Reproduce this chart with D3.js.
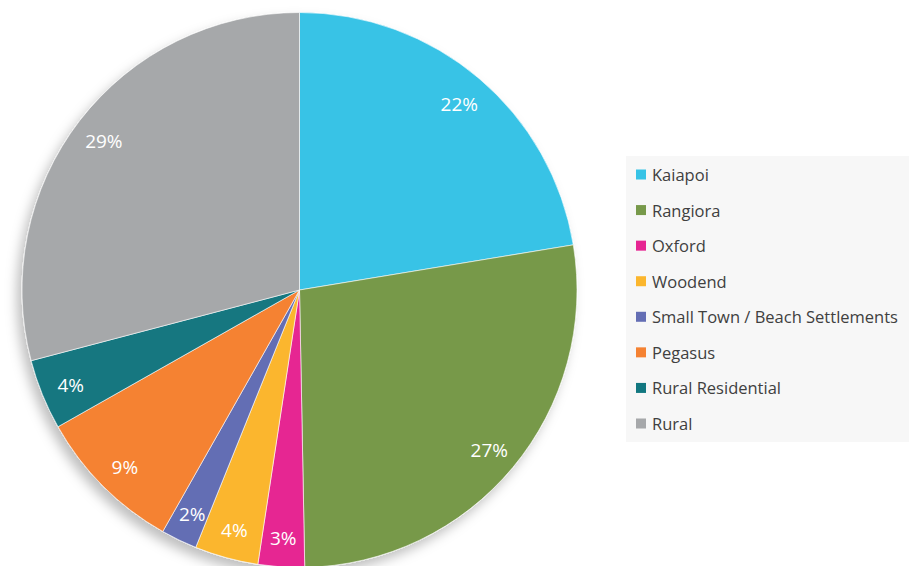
<!DOCTYPE html>
<html>
<head>
<meta charset="utf-8">
<script src="https://cdn.jsdelivr.net/npm/d3@7"></script>
<style>
  body { margin: 0; background: #fff; }
  svg { display: block; }
</style>
</head>
<body>
<script>
// Share by area - pie with legend on the right

const areas   = ["Kaiapoi", "Rangiora", "Oxford", "Woodend", "Small Town / Beach Settlements", "Pegasus", "Rural Residential", "Rural"];
const shares  = [22.4, 27.3, 2.7, 3.7, 2.1, 8.6, 4.1, 29.1];
const labels  = ["22%", "27%", "3%", "4%", "2%", "9%", "4%", "29%"];
const colours = ["#37c3e6", "#77994a", "#e62592", "#fbb62d", "#646eb4", "#f58232", "#127780", "#a6a8aa"];

const width = 909, height = 566;
const cx = 299.5, cy = 290, radius = 277.5;

const data = areas.map((a, i) => ({area: a, share: shares[i], label: labels[i], colour: colours[i]}));

const svg = d3.select("body").append("svg")
    .attr("width", width)
    .attr("height", height);

const defs = svg.append("defs");
const shadow = defs.append("filter")
    .attr("id", "pie-shadow")
    .attr("x", "-20%").attr("y", "-20%")
    .attr("width", "140%").attr("height", "140%");
shadow.append("feDropShadow")
    .attr("dx", -5).attr("dy", 7)
    .attr("stdDeviation", 6)
    .attr("flood-color", "#000")
    .attr("flood-opacity", 0.25);

const pie = d3.pie()
    .value(d => d.share)
    .sort(null);

const arc = d3.arc().innerRadius(0).outerRadius(radius);
const labelArc = d3.arc().innerRadius(247).outerRadius(247);

const g = svg.append("g")
    .attr("transform", "translate(" + cx + "," + cy + ")");

const slices = g.append("g").attr("filter", "url(#pie-shadow)");

slices.selectAll("path")
    .data(pie(data))
    .join("path")
    .attr("d", arc)
    .attr("fill", d => d.data.colour)
    .attr("stroke", "#fff")
    .attr("stroke-width", 0.6);

g.selectAll(".slice-label")
    .data(pie(data))
    .join("text")
    .attr("class", "slice-label")
    .attr("transform", d => "translate(" + labelArc.centroid(d) + ")")
    .attr("text-anchor", "middle")
    .attr("dominant-baseline", "central")
    .attr("dy", 2)
    .style("font-family", "'Open Sans', sans-serif")
    .style("font-size", "19px")
    .attr("fill", "#fff")
    .text(d => d.data.label);

// legend
const legX = 626, legY = 156, legW = 283, legH = 286;
const legend = svg.append("g");

legend.append("rect")
    .attr("x", legX).attr("y", legY)
    .attr("width", legW).attr("height", legH)
    .attr("fill", "#f7f7f7");

const rowScale = d3.scalePoint()
    .domain(areas)
    .range([174.5, 423.5]);

const rows = legend.selectAll(".leg-row")
    .data(data)
    .join("g")
    .attr("class", "leg-row")
    .attr("transform", d => "translate(" + (legX + 10) + "," + rowScale(d.area) + ")");

rows.append("rect")
    .attr("x", 0).attr("y", -5)
    .attr("width", 10).attr("height", 10)
    .attr("fill", d => d.colour);

rows.append("text")
    .attr("x", 16)
    .attr("dominant-baseline", "central")
    .style("font-family", "'Open Sans', sans-serif")
    .style("font-size", "16.5px")
    .attr("fill", "#404040")
    .text(d => d.area);
</script>
</body>
</html>
